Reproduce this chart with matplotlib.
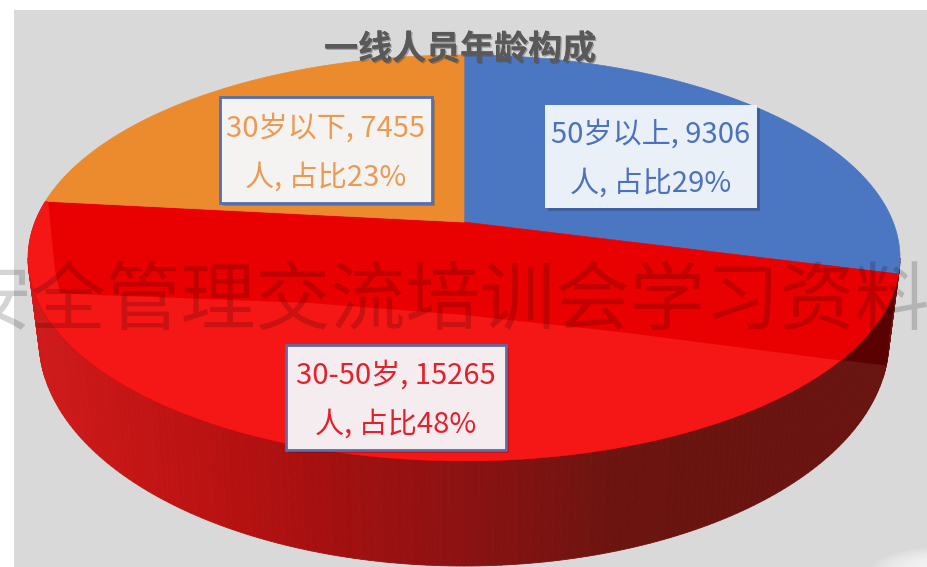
import numpy as np
import matplotlib
matplotlib.use('Agg')
import matplotlib.pyplot as plt
import matplotlib.patheffects as pe
from matplotlib.colors import LinearSegmentedColormap
from matplotlib.patches import Ellipse, Polygon, Rectangle

plt.rcParams['font.family'] = ['Noto Sans CJK SC', 'DejaVu Sans']

# data
names = ['50岁以上', '30-50岁', '30岁以下']
counts = [9306, 15265, 7455]
title = '一线人员年龄构成'
watermark = '安全管理交流培训会学习资料'

# slice colours, label text colours
face_colors = ['#4a76c2', '#e90000', '#ec8a2e']
text_colors = ['#4c72bd', '#e3202c', '#ea9a52']
box_colors = ['#eaf0f8', '#f4ecef', '#f5f3f2']
box_edges = [None, '#5c6aa8', '#4f70b4']
# x0, y0, x1, y1 in pixels
boxes = [(545, 105, 757, 208), (286, 345, 506, 450), (220, 97, 432, 203)]

# pie geometry in pixels
cx, cy, rx, ry = 464, 258, 436, 203
bot_cy, bot_rx, bot_ry = 340, 425, 226
tilt = 0.177  # apex sits above the ellipse centre


def pie_points(t):
    # circle angle -> perspective ellipse
    x, y = np.cos(t), np.sin(t)
    w = 1 + tilt * y
    return cx + rx * x * np.sqrt(1 - tilt ** 2) / w, cy - ry * (y + tilt) / w


def side_points(phi):
    top = np.column_stack([cx + rx * np.cos(phi), cy + ry * np.sin(phi)])
    bot = np.column_stack([cx + bot_rx * np.cos(phi), bot_cy + bot_ry * np.sin(phi)])
    return top, bot


fig = plt.figure(figsize=(9.28, 5.67), dpi=100, facecolor='white')
ax = fig.add_axes([0, 0, 1, 1])
ax.set_xlim(0, 928)
ax.set_ylim(567, 0)
ax.axis('off')

ax.add_patch(Rectangle((14, 10), 914, 557, fc='#d9d9d9', ec='none', zorder=0))
# pale corner bottom right
for i in range(12):
    ax.add_patch(Ellipse((945, 572), 150 - i * 9, 50 - i * 3, fc='white', ec='none', alpha=0.12, zorder=0.5))

# side wall, shaded by x
shade = LinearSegmentedColormap.from_list('side', [
    (0.0, '#d01a1a'), (0.2, '#bb1212'), (0.32, '#a81010'),
    (0.5, '#8c1212'), (0.68, '#6b1410'), (1.0, '#681410')])
phi = np.radians(np.linspace(0, 180, 181))
top, bot = side_points(phi)
for i in range(len(phi) - 1):
    col = shade(((top[i, 0] + top[i + 1, 0]) / 2 - 28) / 872)
    ax.add_patch(Polygon([top[i], top[i + 1], bot[i + 1], bot[i]], fc=col, ec=col, lw=0.6, zorder=1))

side_clip = Polygon(np.vstack([top[:1], bot, top[-1:]]), transform=ax.transData)
dark = Polygon([(825, 255), (915, 255), (915, 369), (825, 358)], fc='#5a0202', ec='none', zorder=1.5)
ax.add_patch(dark)
dark.set_clip_path(side_clip)

# top face
total = sum(counts)
start = np.pi / 2
red_patch = None
for name, n, col in zip(names, counts, face_colors):
    end = start - 2 * np.pi * n / total
    t = np.linspace(start, end, 200)
    px, py = pie_points(t)
    verts = np.vstack([[cx, cy - ry * tilt], np.column_stack([px, py])])
    patch = Polygon(verts, fc=col, ec=col, lw=0.5, zorder=2)
    ax.add_patch(patch)
    if name == '30-50岁':
        red_patch = patch
    start = end

# lighter front part of the red slice
light = Polygon([(20, 195), (48, 200), (55, 270), (60, 293), (100, 295), (310, 303), (464, 315),
                 (620, 332), (837, 360), (915, 372), (915, 480), (20, 480)],
                fc='#f51616', ec='none', zorder=2.1)
ax.add_patch(light)
light.set_clip_path(red_patch)

ax.text(444, 302, watermark, fontsize=53.9, color='black', alpha=0.17, ha='center', va='center', zorder=3)

# data labels
for name, n, x, fc, ec, tc in zip(names, counts, boxes, box_colors, box_edges, text_colors):
    x0, y0, x1, y1 = x
    ax.add_patch(Rectangle((x0 + 3, y0 + 3), x1 - x0, y1 - y0, fc='black', ec='none', alpha=0.18, zorder=3.5))
    ax.add_patch(Rectangle((x0, y0), x1 - x0, y1 - y0, fc=fc, ec=ec if ec else 'none', lw=2, zorder=4))
    mx = (x0 + x1) / 2
    my = (y0 + y1) / 2
    ax.text(mx, my - 21.5, '%s, %d' % (name, n), color=tc, fontsize=21, ha='center', va='center', zorder=5)
    ax.text(mx, my + 27.5, '人, 占比%d%%' % round(100 * n / total), color=tc, fontsize=21, ha='center', va='center', zorder=5)

ax.text(460, 49, title, color='#595959', fontsize=24.5, fontweight='bold', ha='center', va='center', zorder=6,
        path_effects=[pe.withSimplePatchShadow(offset=(1, -1), shadow_rgbFace='#404040', alpha=0.4), pe.Normal()])

fig.savefig('out.png', dpi=100)
